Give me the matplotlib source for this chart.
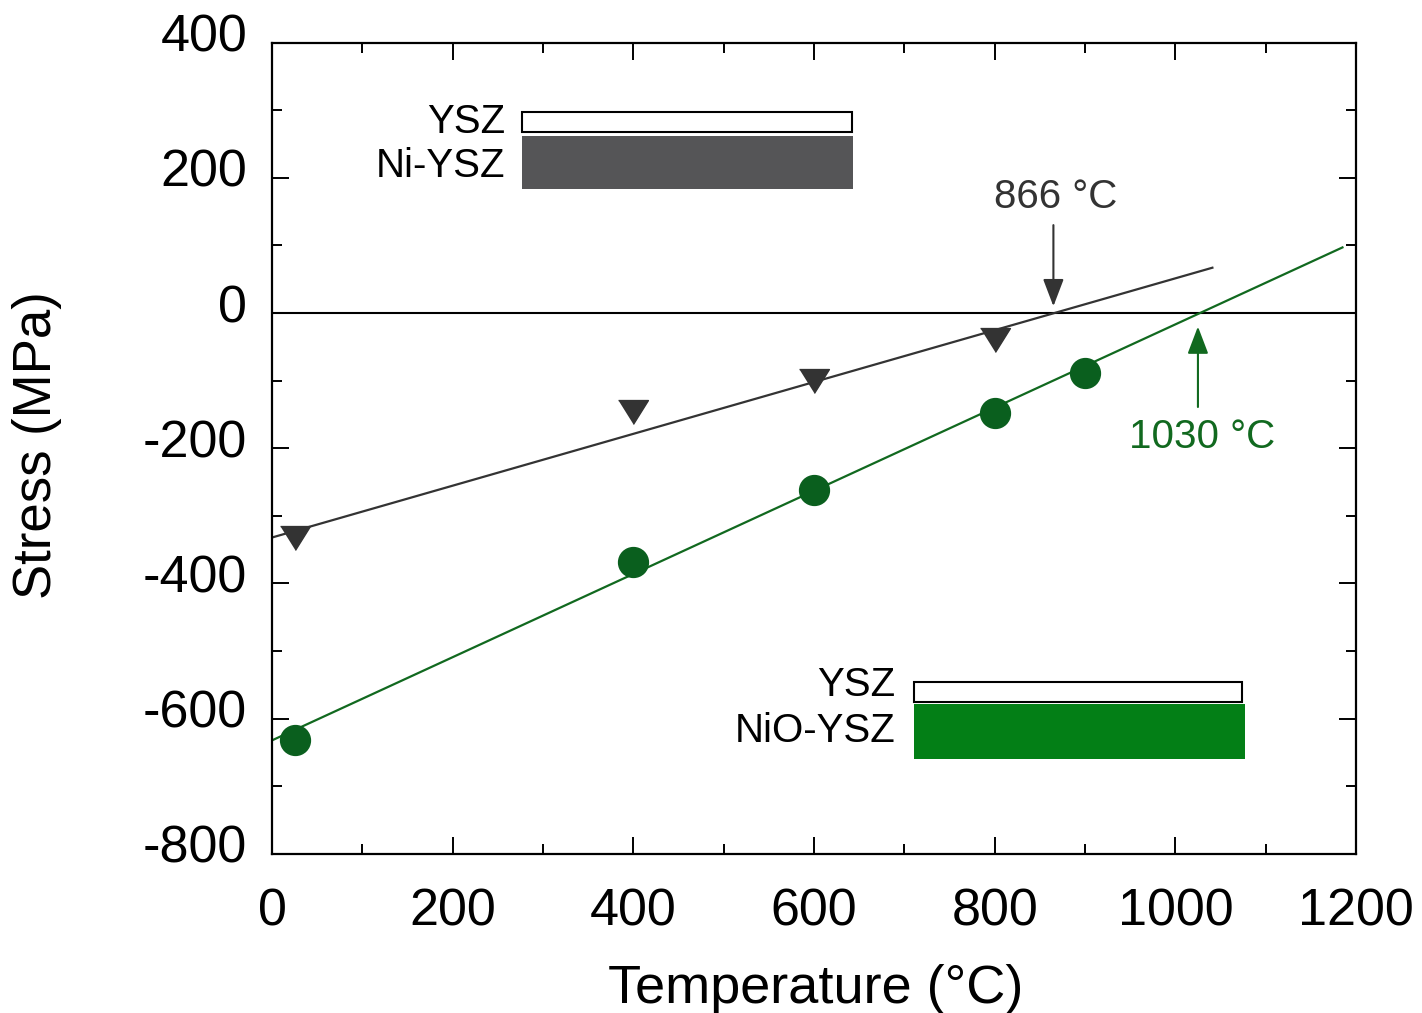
import matplotlib
matplotlib.use("Agg")
import matplotlib.pyplot as plt
import matplotlib.transforms as mtransforms
from matplotlib.patches import Rectangle

plt.rcParams['font.family'] = ['Liberation Sans', 'DejaVu Sans']
plt.rcParams['axes.unicode_minus'] = False

# measured stress vs temperature
temp_ni = [25, 400, 600, 800]
stress_ni = [-333, -147, -101, -40]
temp_nio = [25, 400, 600, 800, 900]
stress_nio = [-631, -368, -262, -148, -88]

# linear fits (end points)
fit_ni_x = [0, 1041]
fit_ni_y = [-332, 67]
fit_nio_x = [0, 1185]
fit_nio_y = [-632, 97]

# zero-stress temperatures
t0_ni = 866
t0_nio = 1030

gray = '#333333'
green_pt = '#0a5f1e'
green_ln = '#11691f'

fig = plt.figure(figsize=(14.22, 10.13), dpi=100)
ax = fig.add_axes([0.1913, 0.1570, 0.9536 - 0.1913, 0.958 - 0.1570])

ax.axhline(0, color='black', lw=1.5, zorder=1)

ax.plot(fit_ni_x, fit_ni_y, color=gray, lw=1.6, zorder=2)
ax.plot(fit_nio_x, fit_nio_y, color=green_ln, lw=1.6, zorder=2)

tri = [(-1, 0.8), (1, 0.8), (0, -0.8)]
ax.plot(temp_ni, stress_ni, ls='none', marker=tri, ms=21.5, color=gray, zorder=3)
ax.plot(temp_nio, stress_nio, ls='none', marker='o', ms=21.5, color=green_pt,
        mec=green_pt, zorder=3)

# layer schematics
ax.add_patch(Rectangle((277, 267), 365, 30, fc='white', ec='black', lw=1.5, zorder=2))
ax.add_patch(Rectangle((277, 183), 366, 79, fc='#555557', ec='none', zorder=2))
ax.text(258, 283, 'YSZ', ha='right', va='center', fontsize=29)
ax.text(258, 218, 'Ni-YSZ', ha='right', va='center', fontsize=29)

ax.add_patch(Rectangle((711, -576), 363, 30, fc='white', ec='black', lw=1.5, zorder=2))
ax.add_patch(Rectangle((711, -659), 366, 81, fc='#037f16', ec='none', zorder=2))
ax.text(690, -550, 'YSZ', ha='right', va='center', fontsize=29)
ax.text(690, -618, 'NiO-YSZ', ha='right', va='center', fontsize=29)

# zero-crossing annotations
ax.annotate('', xy=(865, 10), xytext=(865, 130),
            arrowprops=dict(arrowstyle='-|>,head_length=0.42,head_width=0.16',
                            mutation_scale=40, color=gray, lw=1.5,
                            shrinkA=0, shrinkB=0))
ax.text(868, 172, f'{t0_ni} °C', ha='center', va='center', fontsize=29, color=gray)

ax.annotate('', xy=(1025, -20), xytext=(1025, -139),
            arrowprops=dict(arrowstyle='-|>,head_length=0.42,head_width=0.16',
                            mutation_scale=40, color=green_ln, lw=1.5,
                            shrinkA=0, shrinkB=0))
ax.text(1030, -183, f'{t0_nio} °C', ha='center', va='center', fontsize=29,
        color=green_ln)

ax.set_xlim(0, 1200)
ax.set_ylim(-800, 400)
ax.set_xticks(range(0, 1201, 200))
ax.set_xticks(range(0, 1201, 100), minor=True)
ax.set_yticks(range(-800, 401, 200))
ax.set_yticks(range(-800, 401, 100), minor=True)

for s in ax.spines.values():
    s.set_linewidth(1.6)
ax.tick_params(which='both', direction='in', top=True, right=True, width=1.4)
ax.tick_params(which='major', length=12)
ax.tick_params(which='minor', length=7)
ax.tick_params(axis='x', which='major', labelsize=37.5, pad=24)
ax.tick_params(axis='y', which='major', labelsize=37.5, pad=18)

# y tick labels sit a little above their ticks in the original
shift = mtransforms.ScaledTranslation(0, 10 / 100, fig.dpi_scale_trans)
for lab in ax.get_yticklabels():
    lab.set_transform(lab.get_transform() + shift)

fig.text(0.5738, 0.0099, 'Temperature (°C)', ha='center', va='baseline', fontsize=39)
fig.text(0.026, 0.5607, 'Stress (MPa)', ha='center', va='center', rotation=90,
         fontsize=38)

fig.savefig('out.png', dpi=100)
